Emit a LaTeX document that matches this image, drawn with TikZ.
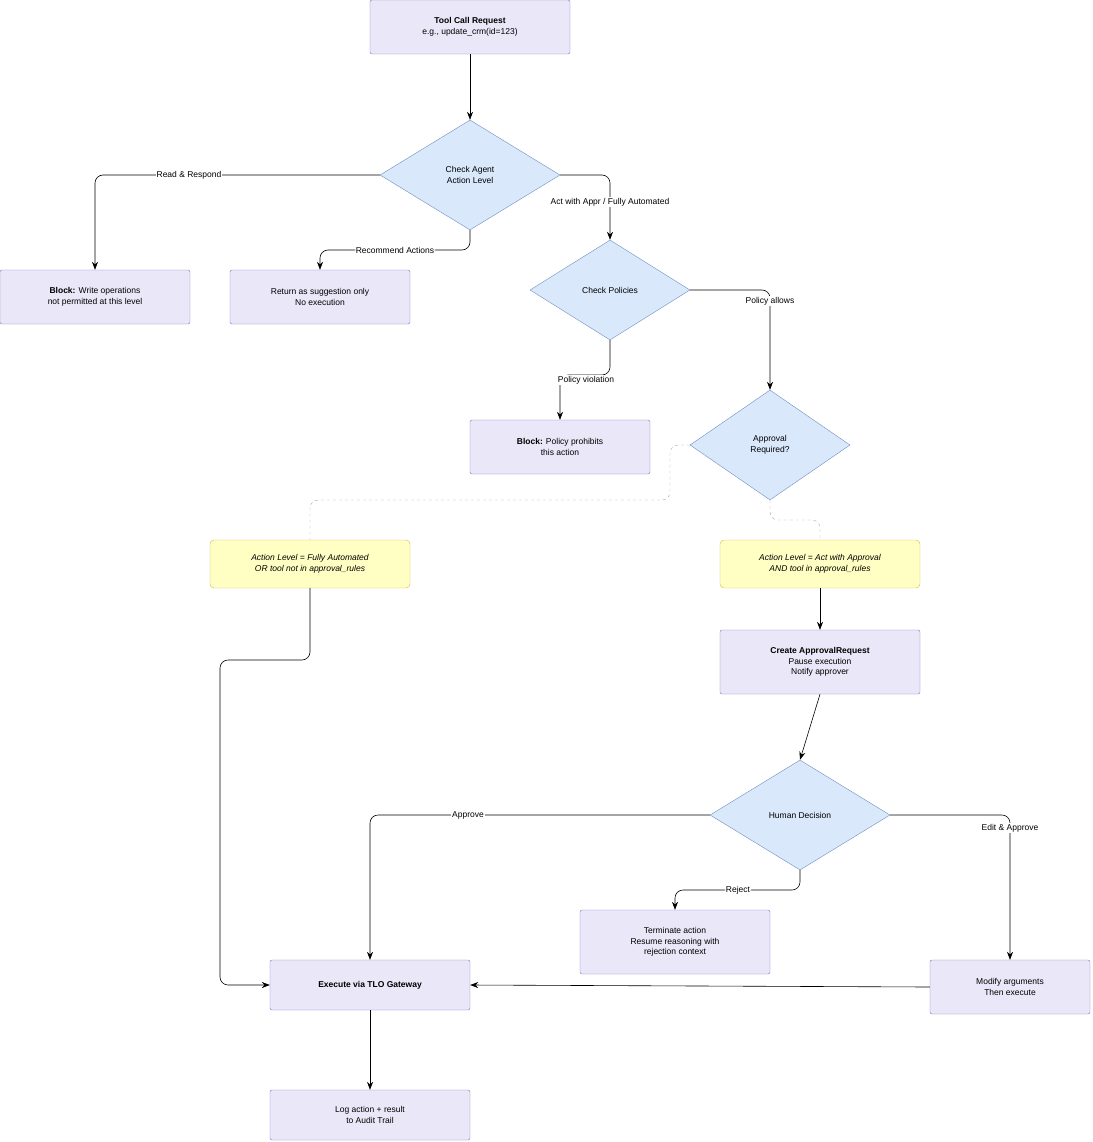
\documentclass[tikz,border=0pt]{standalone}
\usepackage{fontspec}
\setmainfont{Liberation Sans}
\usetikzlibrary{shapes.geometric,arrows.meta}
\definecolor{boxfill}{HTML}{EAE8F8}
\definecolor{boxline}{HTML}{7F78BE}
\definecolor{decfill}{HTML}{DAE8FC}
\definecolor{decline}{HTML}{6C8EBF}
\definecolor{notefill}{HTML}{FFFFC4}
\definecolor{noteline}{HTML}{D6B656}

\begin{document}
\begin{tikzpicture}[x=1pt,y=-1pt,
    every node/.style={font=\fontsize{8.5}{10.5}\selectfont, align=center},
    step/.style={rectangle, rounded corners=2pt, draw=boxline, fill=boxfill, minimum width=#1, inner sep=2pt},
    step/.default=200pt,
    check/.style={diamond, draw=decline, fill=decfill, inner sep=0pt},
    note/.style={rectangle, rounded corners=4pt, draw=noteline, fill=notefill, minimum width=200pt, minimum height=48pt, font=\fontsize{8.5}{10.5}\selectfont\itshape},
    flow/.style={-{Stealth[length=8pt,width=6pt]}, rounded corners=8pt, line width=0.6pt},
    link/.style={gray!70, dashed, rounded corners=8pt},
    lbl/.style={fill=white, inner sep=1pt}]
    \useasboundingbox (0,0) rectangle (1092,1142);
    \node[step, minimum height=54pt]             (req)    at (470,27)   {\textbf{Tool Call Request}\\e.g., update\_crm(id=123)};
    \node[check, minimum width=180pt, minimum height=110pt] (level) at (470,175) {Check Agent\\Action Level};
    \node[step=190pt, minimum height=54pt]       (blockw) at (95,297)   {\textbf{Block:} Write operations\\not permitted at this level};
    \node[step=180pt, minimum height=54pt]       (sugg)   at (320,297)  {Return as suggestion only\\No execution};
    \node[check, minimum width=160pt, minimum height=100pt] (policy) at (610,290) {Check Policies};
    \node[step=180pt, minimum height=54pt]       (blockp) at (560,447)  {\textbf{Block:} Policy prohibits\\this action};
    \node[check, minimum width=160pt, minimum height=110pt] (appr) at (770,445) {Approval\\Required?};
    \node[note]                                  (noteL)  at (310,564)  {Action Level = Fully Automated\\OR tool not in approval\_rules};
    \node[note]                                  (noteR)  at (820,564)  {Action Level = Act with Approval\\AND tool in approval\_rules};
    \node[step, minimum height=64pt]             (create) at (820,662)  {\textbf{Create ApprovalRequest}\\Pause execution\\Notify approver};
    \node[check, minimum width=180pt, minimum height=110pt] (human) at (800,815) {Human Decision};
    \node[step=190pt, minimum height=64pt]       (term)   at (675,942)  {Terminate action\\Resume reasoning with\\rejection context};
    \node[step, minimum height=50pt]             (exec)   at (370,985)  {\textbf{Execute via TLO Gateway}};
    \node[step=160pt, minimum height=54pt]       (modify) at (1010,987) {Modify arguments\\Then execute};
    \node[step, minimum height=50pt]             (log)    at (370,1115) {Log action + result\\to Audit Trail};

    \draw[flow] (req) -- (level);
    \draw[flow] (level.west) -| (blockw.north);
    \node[lbl] at (189,175) {Read \& Respond};
    \draw[flow] (level.south) |- (395,250) node[lbl] {Recommend Actions} -| (sugg.north);
    \draw[flow] (level.east) -| (policy.north);
    \node[lbl] at (610,202) {Act with Appr / Fully Automated};
    \draw[flow] (policy.east) -| (appr.north);
    \node[lbl] at (770,301) {Policy allows};
    \draw[flow] (policy.south) |- (586,375) -| (blockp.north);
    \node[lbl] at (586,380) {Policy violation};
    \draw[link] (appr.west) -- (670,445) -- (670,500) -- (310,500) -- (noteL.north);
    \draw[link] (appr.south) |- (820,520) -- (noteR.north);
    \draw[flow] (noteR) -- (create);
    \draw[flow] (noteL.south) |- (220,660) |- (exec.west);
    \draw[flow] (create.south) -- (human.north);
    \draw[flow] (human.west) -| (exec.north);
    \node[lbl] at (468,815) {Approve};
    \draw[flow] (human.south) |- (738,890) node[lbl] {Reject} -| (term.north);
    \draw[flow] (human.east) -| (modify.north);
    \node[lbl] at (1010,828) {Edit \& Approve};
    \draw[flow] (modify.west) -- (exec.east);
    \draw[flow] (exec) -- (log);
\end{tikzpicture}
\end{document}
